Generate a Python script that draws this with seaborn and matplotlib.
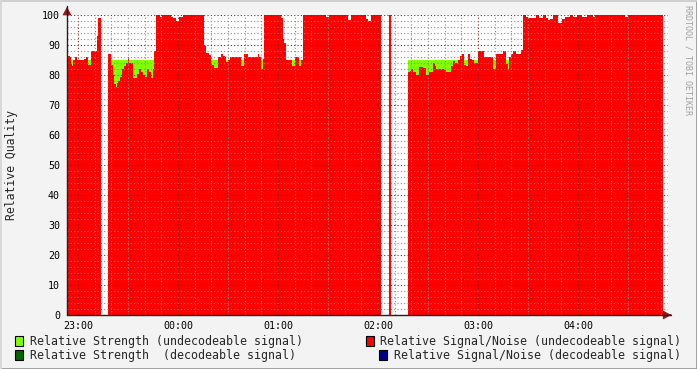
import numpy as np
import pandas as pd
import matplotlib
matplotlib.use("Agg")
import matplotlib.pyplot as plt
import seaborn as sns
from matplotlib.patches import Rectangle

# ---- data (minutes relative to 23:00) ----
seg_start = [-6.6, -6.0, -4.8, -4.2, -3.6, -3.0, -1.8, -0.6, 3.6, 4.8, 6.0, 7.8, 11.4, 12.0,
             13.8, 18.0, 19.8, 21.0, 21.6, 22.8, 23.4, 24.0, 25.2, 26.4, 27.6, 28.8, 30.0, 30.6,
             33.0, 35.4, 36.6, 37.8, 39.0, 40.2, 41.4, 42.6, 43.8, 45.0, 45.6, 46.8, 49.2, 50.4,
             55.8, 57.0, 58.8, 60.6, 63.0, 75.6, 76.8, 78.6, 79.8, 80.4, 81.6, 84.0, 85.8, 87.0,
             88.2, 88.8, 90.0, 91.2, 97.8, 99.6, 102.0, 108.0, 108.6, 109.8, 111.0, 111.6, 121.8,
             123.0, 123.6, 124.8, 128.4, 130.2, 132.6, 133.8, 135.0, 148.8, 150.6, 162.0, 163.8,
             172.8, 174.0, 175.8, 181.8, 186.6, 187.8, 198.0, 199.2, 199.8, 201.0, 202.8, 204.6,
             207.0, 208.8, 210.6, 213.0, 214.2, 214.8, 219.6, 220.8, 223.8, 225.0, 226.2, 228.0,
             229.2, 230.4, 231.6, 232.8, 234.0, 235.2, 236.4, 237.6, 240.0, 243.6, 249.0, 250.8,
             255.0, 256.8, 258.0, 258.6, 259.8, 261.0, 262.8, 265.8, 267.0, 268.8, 270.0, 274.8,
             276.6, 279.0, 280.8, 282.0, 283.2, 285.0, 288.0, 290.4, 292.2, 295.2, 297.0, 299.4,
             302.4, 305.4, 309.0, 310.2, 328.2, 330.0]
data_end = 351.0

snr_undecodeable = [87, 86.3, 86, 84, 83, 85, 86, 85, 85.5, 86, 83.5, 88, 93, 99,
                    np.nan, 87, 83.5, 80, 77, 76, 77.5, 78, 79.5, 82, 83, 84, 86, 84,
                    79, 80.5, 82, 81, 80, 79.5, 82, 81, 79, 82, 88, 100, 99.4, 100,
                    99.4, 98.9, 98.1, 99.2, 100, 89.7, 87.2, 86.7, 84.1, 83.3, 82.4, 86, 87.1, 86.4,
                    86, 84.4, 85, 86, 83.1, 87.1, 86, 87, 86, 82, 85.4, 100, 99.1,
                    92, 90.7, 85, 83.1, 86, 83.1, 85, 100, 99.3, 100, 98.5, 100,
                    98.8, 98.1, 100, np.nan, 100, np.nan, 81.1, 81.5, 81.9, 81.1, 80.1, 82.8,
                    82.4, 80.1, 81.1, 83.9, 83, 82, 81.7, 81, 83.1, 84.8, 84.1, 85,
                    86.4, 87.1, 83.3, 83.1, 87, 85.2, 85, 84, 88, 86, 82, 87,
                    88, 83.8, 82, 86, 87, 88, 87.1, 88.2, 100, 99.4, 99.1, 100,
                    99.1, 100, 99.1, 98.4, 98.6, 100, 97.4, 98.6, 99.4, 100, 99.2, 100,
                    99.2, 100, 99.2, 100, 99.2, 100]

strength_start = [-6.6, 13.8, 18.0, 181.8, 186.6, 187.8, 198.0]
strength_undecodeable = [85, np.nan, 85, np.nan, 85, np.nan, 85]

hour_ticks = [0, 60, 120, 180, 240, 300]
hour_labels = ["23:00", "00:00", "01:00", "02:00", "03:00", "04:00"]
y_ticks = [0, 10, 20, 30, 40, 50, 60, 70, 80, 90, 100]

legend_labels = ["Relative Strength (undecodeable signal)",
                 "Relative Strength  (decodeable signal)",
                 "Relative Signal/Noise (undecodeable signal)",
                 "Relative Signal/Noise (decodeable signal)"]
legend_colors = ["#80ff00", "#006400", "#ff0000", "#00008b"]


def steps(starts, vals, end):
    xs, ys = [], []
    bounds = list(starts) + [end]
    for i, v in enumerate(vals):
        xs += [bounds[i], bounds[i + 1]]
        ys += [v, v]
    return np.array(xs, float), np.array(ys, float)


sns.set_theme(style="white")
plt.rcParams['font.family'] = ['DejaVu Sans Mono', 'DejaVu Sans']

W, H = 697, 369
fig = plt.figure(figsize=(W / 100, H / 100), dpi=100, facecolor="#f3f3f3")
L, R, T, B = 67, 668, 15, 315
ax = fig.add_axes([L / W, (H - B) / H, (R - L) / W, (B - T) / H])
ax.set_facecolor("white")

xs, ys = steps(strength_start, strength_undecodeable, data_end)
ax.fill_between(xs, 0, ys, color=legend_colors[0], lw=0, zorder=1)
xs, ys = steps(seg_start, snr_undecodeable, data_end)
ax.fill_between(xs, 0, ys, color=legend_colors[2], lw=0, zorder=1.2)

x0 = -6.6
ax.set_xlim(x0, x0 + (R - L) * 0.6)
ax.set_ylim(0, 100)

ax.set_xticks(hour_ticks)
ax.set_xticklabels(hour_labels)
ax.set_xticks(np.arange(0, 360, 10), minor=True)
ax.set_yticks(y_ticks)
ax.set_yticklabels([str(v) for v in y_ticks])
ax.set_yticks(np.arange(0, 101, 2), minor=True)
ax.set_axisbelow(False)
ax.grid(True, which="minor", color=(0.55, 0.55, 0.55, 0.22), linestyle=(0, (1, 2)), lw=0.8)
ax.grid(True, which="major", color=(0.51, 0.12, 0.12, 0.32), linestyle=(0, (1, 2)), lw=0.8)
ax.tick_params(axis="both", which="both", length=0, labelsize=7.2, colors="black")
ax.tick_params(axis="x", pad=4)
ax.tick_params(axis="y", pad=5)
for s in ax.spines.values():
    s.set_visible(False)

# axes lines with arrows
ax.plot([0, 0], [0, 1.03], transform=ax.transAxes, color="#202020", lw=1, clip_on=False, zorder=5)
ax.plot([0, 1.005], [0, 0], transform=ax.transAxes, color="#202020", lw=1, clip_on=False, zorder=5)
ax.annotate("", xy=(L / W, (H - 7) / H), xytext=(L / W, (H - 12) / H), xycoords="figure fraction",
            arrowprops=dict(arrowstyle="-|>,head_length=0.4,head_width=0.22", color="#8b1a1a", lw=0.8))
ax.annotate("", xy=(674 / W, (H - B) / H), xytext=(668 / W, (H - B) / H), xycoords="figure fraction",
            arrowprops=dict(arrowstyle="-|>,head_length=0.4,head_width=0.22", color="#8b1a1a", lw=0.8))

fig.text(12 / W, 1 - 165 / H, "Relative Quality", rotation=90, ha="center", va="center", fontsize=8.3)
fig.text(688 / W, 1 - 5 / H, "RRDTOOL / TOBI OETIKER", rotation=270, ha="center", va="top",
         fontsize=6, color="#a0a0a0")

# legend
rows = [341, 355]
items = [(15, 30, rows[0], 0, "left"), (15, 30, rows[1], 1, "left"),
         (366, 681, rows[0], 2, "right"), (379, 681, rows[1], 3, "right")]
for sq_x, tx, ty, idx, align in items:
    fig.patches.append(Rectangle((sq_x / W, 1 - (ty + 5) / H), 8 / W, 10 / H, transform=fig.transFigure,
                                 facecolor=legend_colors[idx], edgecolor="black", lw=0.8))
    fig.text(tx / W, 1 - ty / H, legend_labels[idx], ha=align, va="center", fontsize=8.38)

# image border
fig.patches.append(Rectangle((0, 0), 1, 1, transform=fig.transFigure, fill=False,
                             edgecolor="#9a9a9a", lw=2))
fig.patches.append(Rectangle((0, 1 - 2 / H), 1, 2 / H, transform=fig.transFigure,
                             facecolor="#cfcfcf", edgecolor="none"))
fig.patches.append(Rectangle((0, 0), 2 / W, 1, transform=fig.transFigure,
                             facecolor="#d8d8d8", edgecolor="none"))

fig.savefig("out.png", dpi=100, facecolor=fig.get_facecolor())
